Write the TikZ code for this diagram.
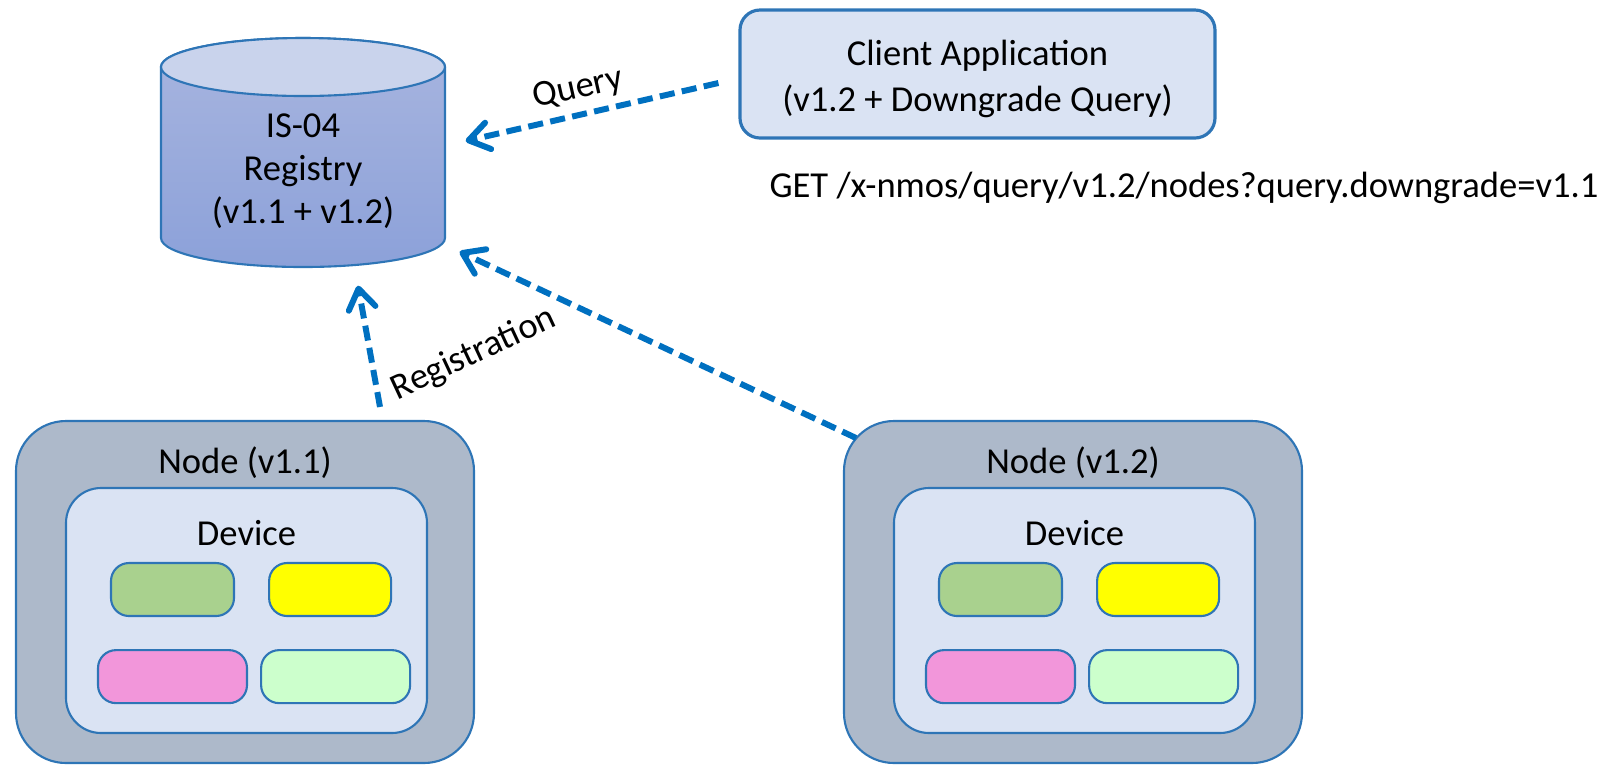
\documentclass[tikz,border=0pt]{standalone}
\usepackage{fontspec}
\setmainfont{Carlito}
\usetikzlibrary{positioning}
\usetikzlibrary{arrows.meta}

\definecolor{linkblue}{HTML}{0070C0}
\definecolor{edgeblue}{HTML}{2E75B6}
\definecolor{paleblue}{HTML}{DAE3F3}
\definecolor{nodegrey}{HTML}{ADB9CA}
\definecolor{cyltop}{HTML}{C9D3EC}
\definecolor{cylhigh}{HTML}{A8B5DF}
\definecolor{cyllow}{HTML}{8CA1D9}
\definecolor{resgreen}{HTML}{A9D18E}
\definecolor{resyellow}{HTML}{FFFF00}
\definecolor{respink}{HTML}{F296DA}
\definecolor{resmint}{HTML}{CCFFCC}

\tikzset{
    nodebox/.style={draw=edgeblue, fill=nodegrey, line width=0.6pt, rounded corners=0.5cm, minimum width=4.58cm, minimum height=3.42cm},
    devbox/.style={draw=edgeblue, fill=paleblue, line width=0.6pt, rounded corners=0.35cm, minimum width=3.61cm, minimum height=2.45cm},
    res/.style={draw=edgeblue, line width=0.6pt, rounded corners=0.18cm, minimum height=0.53cm, inner sep=0pt},
    link/.style={draw=linkblue, line width=1.7pt, dash pattern=on 4.3pt off 2.1pt, -{Straight Barb[length=0.2cm, width=0.27cm, round]}}
}

\begin{document}
\begin{tikzpicture}[font=\fontsize{10.4}{12.2}\selectfont]

    \useasboundingbox (0,0) rectangle (16.19,-7.64);

    % registry drum
    \shade[top color=cylhigh, bottom color=cyllow, draw=edgeblue, line width=0.6pt]
        (1.61,-0.67) -- (1.61,-2.38) arc (180:360:1.42 and 0.29) -- (4.45,-0.67) arc (0:180:1.42 and 0.29) -- cycle;
    \draw[fill=cyltop, draw=edgeblue, line width=0.6pt] (3.03,-0.67) ellipse (1.42 and 0.29);
    \node(REG)[minimum width=2.84cm, minimum height=2.29cm] at (3.03,-1.525){};
    \node(REGT)[align=center, anchor=base] at (3.03,-2.235){IS-04\\Registry\\(v1.1 + v1.2)};

    % client
    \node(CA)[draw=edgeblue, fill=paleblue, line width=0.9pt, rounded corners=0.2cm, minimum width=4.75cm, minimum height=1.28cm] at (9.775,-0.74){};
    \node(CAT)[align=center, anchor=base] at (9.775,-1.115){Client Application\\[0.8pt](v1.2 + Downgrade Query)};
    \node(GET)[anchor=base] at (11.84,-1.97){GET /x-nmos/query/v1.2/nodes?query.downgrade=v1.1};

    % node v1.1
    \node(N1)[nodebox] at (2.45,-5.92){};
    \node(L1)[anchor=base] at (2.45,-4.73){Node (v1.1)};
    \node(D1)[devbox] at (2.465,-6.105){};
    \node(T1)[anchor=base] at (2.465,-5.45){Device};
    \node(G1)[res, fill=resgreen, minimum width=1.23cm] at (1.725,-5.895){};
    \node(Y1)[res, fill=resyellow, minimum width=1.22cm, right=0.33cm of G1]{};
    \node(P1)[res, fill=respink, minimum width=1.49cm, below=0.32cm of G1]{};
    \node(M1)[res, fill=resmint, minimum width=1.49cm, right=0.12cm of P1]{};

    % node v1.2
    \node(N2)[nodebox] at (10.73,-5.92){};
    \node(L2)[anchor=base] at (10.73,-4.73){Node (v1.2)};
    \node(D2)[devbox] at (10.745,-6.105){};
    \node(T2)[anchor=base] at (10.745,-5.45){Device};
    \node(G2)[res, fill=resgreen, minimum width=1.23cm] at (10.005,-5.895){};
    \node(Y2)[res, fill=resyellow, minimum width=1.22cm, right=0.33cm of G2]{};
    \node(P2)[res, fill=respink, minimum width=1.49cm, below=0.32cm of G2]{};
    \node(M2)[res, fill=resmint, minimum width=1.49cm, right=0.12cm of P2]{};

    \draw[link] ([shift={(-0.2,-0.09)}]CA.west) -- ([shift={(0.2,0.115)}]REG.east);
    \draw[link] ([shift={(1.35,0.13)}]N1.north) -- ([shift={(0.55,-0.18)}]REG.south);
    \draw[link] ([shift={(0.13,-0.18)}]N2.north west) -- ([shift={(0.14,0.16)}]REG.south east);

    \node(QL)[rotate=12.8] at (5.78,-0.89){Query};
    \node(RL)[rotate=25] at (4.74,-3.54){Registration};

\end{tikzpicture}
\end{document}
